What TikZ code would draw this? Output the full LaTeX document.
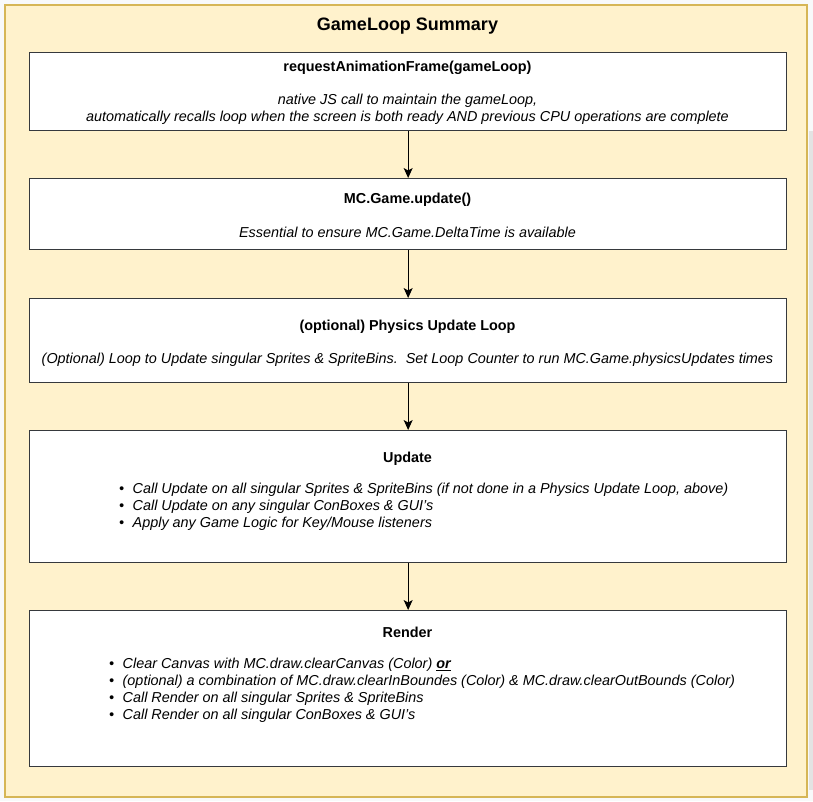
\documentclass[tikz,border=0pt]{standalone}
\usepackage{fontspec}
\setmainfont{Liberation Sans}
\usetikzlibrary{arrows.meta}
\definecolor{pagebg}{HTML}{F8F9FA}
\definecolor{contfill}{HTML}{FFF2CC}
\definecolor{contline}{HTML}{D6B656}
\definecolor{boxline}{HTML}{36393D}
\definecolor{scrollgrey}{HTML}{E3E3E3}
\newcommand{\bodyfont}{\fontsize{14.4}{17.3}\selectfont}
\newcommand{\bitem}[1]{\makebox[13.5pt][l]{\textbullet}#1}
\tikzset{
  stepbox/.style={draw=boxline, fill=white, line width=1.3pt, minimum width=757pt, inner sep=0pt, anchor=north west},
  boxtitle/.style={font=\bfseries\bodyfont, inner sep=0pt, text height=10.5pt, text depth=3pt, yshift=-2pt},
  boxdesc/.style={font=\itshape\bodyfont, inner sep=0pt, text height=10.5pt, text depth=3pt, yshift=-2pt},
  bullettext/.style={font=\itshape\bodyfont, inner sep=0pt, anchor=west, text height=10.5pt, text depth=3pt, yshift=-2pt},
  arr/.style={draw=black, line width=1pt, -{Stealth[length=10pt,width=9pt,inset=2.5pt]}}
}
\begin{document}
\begin{tikzpicture}[x=1pt,y=-1pt]
\useasboundingbox[fill=pagebg] (0,0) rectangle (813,801);
\fill[scrollgrey] (809,131) rectangle (813,790);
\node[draw=contline, fill=contfill, line width=1.5pt, minimum width=802pt, minimum height=792pt, inner sep=0pt, anchor=north west] (cont) at (4,4) {};
\node[font=\bfseries\fontsize{18}{21}\selectfont, inner sep=0pt, yshift=-2pt] (title) at (407.5,24) {GameLoop Summary};

% Box 1
\node[stepbox, minimum height=78pt] (b1) at (29,52) {};
\node[boxtitle] (b1t) at (407.5,66) {requestAnimationFrame(gameLoop)};
\node[boxdesc] (b1d) at (407.5,99) {native JS call to maintain the gameLoop,};
\node[boxdesc] (b1e) at (407.5,116) {automatically recalls loop when the screen is both ready AND previous CPU operations are complete};

% Box 2
\node[stepbox, minimum height=71pt] (b2) at (29,178) {};
\node[boxtitle] (b2t) at (407.5,198) {MC.Game.update()};
\node[boxdesc] (b2d) at (407.5,232) {Essential to ensure MC.Game.DeltaTime is available};

% Box 3
\node[stepbox, minimum height=84pt] (b3) at (29,298) {};
\node[boxtitle] (b3t) at (407.5,325) {(optional) Physics Update Loop};
\node[boxdesc] (b3d) at (407.5,358) {(Optional) Loop to Update singular Sprites \& SpriteBins.\ \ Set Loop Counter to run MC.Game.physicsUpdates times};

% Box 4
\node[stepbox, minimum height=132pt] (b4) at (29,430) {};
\node[boxtitle] (b4t) at (407.5,457) {Update};
\node[bullettext] (b4a) at (119,488) {\bitem{Call Update on all singular Sprites \& SpriteBins (if not done in a Physics Update Loop, above)}};
\node[bullettext] (b4b) at (119,505) {\bitem{Call Update on any singular ConBoxes \& GUI's}};
\node[bullettext] (b4c) at (119,522) {\bitem{Apply any Game Logic for Key/Mouse listeners}};

% Box 5
\node[stepbox, minimum height=156pt] (b5) at (29,610) {};
\node[boxtitle] (b5t) at (407.5,632) {Render};
\node[bullettext] (b5a) at (109,663) {\bitem{Clear Canvas with MC.draw.clearCanvas (Color) \underline{\textbf{or}}}};
\node[bullettext] (b5b) at (109,680) {\bitem{(optional) a combination of MC.draw.clearInBoundes (Color) \& MC.draw.clearOutBounds (Color)}};
\node[bullettext] (b5c) at (109,697) {\bitem{Call Render on all singular Sprites \& SpriteBins}};
\node[bullettext] (b5d) at (109,714) {\bitem{Call Render on all singular ConBoxes \& GUI's}};

% Connectors
\draw[arr] (b1.south) -- (b2.north);
\draw[arr] (b2.south) -- (b3.north);
\draw[arr] (b3.south) -- (b4.north);
\draw[arr] (b4.south) -- (b5.north);
\end{tikzpicture}
\end{document}
